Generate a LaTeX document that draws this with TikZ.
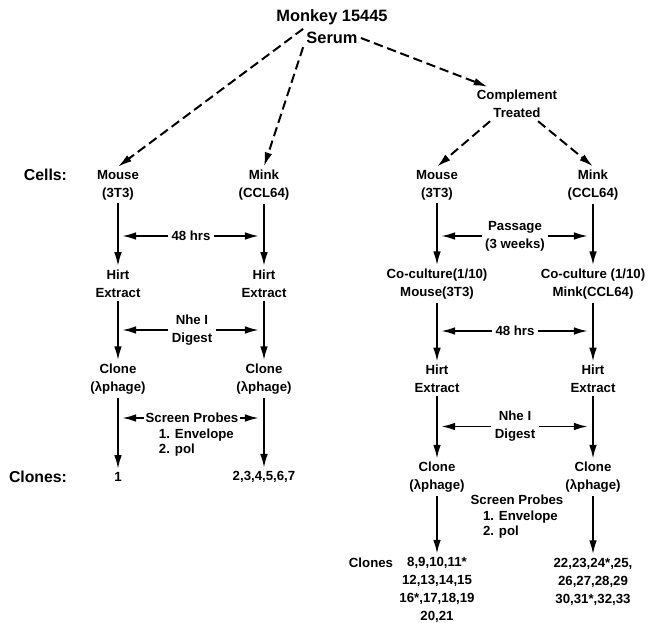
\documentclass[tikz,border=0pt]{standalone}
\usepackage{fontspec}
\setmainfont{Liberation Sans}
\usetikzlibrary{arrows.meta}

\begin{document}
\begin{tikzpicture}[
        >={Latex[length=12pt,width=6.5pt]}, line width=1.7pt,
        x=0.03cm, y=-0.03cm,
        lbl/.style={font=\fontsize{11.3}{15.4}\selectfont\bfseries, align=center, inner sep=2pt},
        lst/.style={font=\fontsize{11.3}{13}\selectfont\bfseries, align=left, inner sep=0pt},
        head/.style={font=\fontsize{14}{18}\selectfont\bfseries, inner sep=2pt},
        side/.style={font=\fontsize{13.5}{16}\selectfont\bfseries, anchor=east, inner sep=0pt},
        dash arrow/.style={->, dash pattern=on 8pt off 4pt},
    ]

    \useasboundingbox (0,0) rectangle (650,623);

    % top
    \node[head] (monkey) at (332,17) {Monkey 15445};
    \node[head] (serum) at (332,38) {Serum};
    \node[lbl] (compl) at (517,104) {Complement\\Treated};

    % row labels
    \node[side] (cells) at (68,175) {Cells:};
    \node[side] (clones) at (68,477) {Clones:};

    % left half
    \node[lbl] (mouseL) at (118,185) {Mouse\\(3T3)};
    \node[lbl] (hirtL1) at (118,283.5) {Hirt\\Extract};
    \node[lbl] (cloneL1) at (118,379) {Clone\\(λphage)};
    \node[lbl] (oneL) at (118,477) {1};
    \node[lbl] (minkL) at (264,185) {Mink\\(CCL64)};
    \node[lbl] (hirtL2) at (264,283.5) {Hirt\\Extract};
    \node[lbl] (cloneL2) at (264,379) {Clone\\(λphage)};
    \node[lbl] (restL) at (264,477) {2,3,4,5,6,7};

    \node[lbl] (hrsL) at (191,236) {48 hrs};
    \node[lbl] (nheL) at (192,330) {Nhe I\\Digest};
    \node[lbl, inner sep=0.5pt] (probesL) at (192,418) {Screen Probes};
    \node[lst, anchor=north west] (listL) at (158,428) {1. Envelope\\2. pol};

    % right half
    \node[lbl] (mouseR) at (437,185) {Mouse\\(3T3)};
    \node[lbl] (coR1) at (437,284) {Co-culture(1/10)\\Mouse(3T3)};
    \node[lbl] (hirtR1) at (437,379) {Hirt\\Extract};
    \node[lbl] (cloneR1) at (437,477.5) {Clone\\(λphage)};
    \node[lbl] (numR1) at (437,590) {8,9,10,11*\\12,13,14,15\\16*,17,18,19\\20,21};
    \node[lbl] (minkR) at (593,185) {Mink\\(CCL64)};
    \node[lbl] (coR2) at (593,284) {Co-culture (1/10)\\Mink(CCL64)};
    \node[lbl] (hirtR2) at (593,379) {Hirt\\Extract};
    \node[lbl] (cloneR2) at (593,477.5) {Clone\\(λphage)};
    \node[lbl] (numR2) at (593,581.5) {22,23,24*,25,\\26,27,28,29\\30,31*,32,33};

    \node[lbl] (passR) at (515,236) {Passage\\(3 weeks)};
    \node[lbl] (hrsR) at (515,331) {48 hrs};
    \node[lbl] (nheR) at (515,426.5) {Nhe I\\Digest};
    \node[lbl] (probesR) at (517,500) {Screen Probes};
    \node[lst, anchor=north west] (listR) at (482,510) {1. Envelope\\2. pol};
    \node[lbl] (clonesR) at (371,563) {Clones};

    % dashed arrows
    \draw[dash arrow] (serum.north west) -- (mouseL.north);
    \draw[dash arrow] (serum.south west) -- (minkL.north);
    \draw[dash arrow] (serum.east) -- ([xshift=-25pt]compl.north);
    \draw[dash arrow] ([xshift=-23pt]compl.south) -- (mouseR.north);
    \draw[dash arrow] ([xshift=18pt]compl.south) -- (minkR.north);

    % vertical arrows
    \foreach \a/\b in {mouseL/hirtL1, hirtL1/cloneL1, cloneL1/oneL,
                       minkL/hirtL2, hirtL2/cloneL2, cloneL2/restL,
                       mouseR/coR1, coR1/hirtR1, hirtR1/cloneR1, cloneR1/numR1,
                       minkR/coR2, coR2/hirtR2, hirtR2/cloneR2, cloneR2/numR2}
        \draw[->] (\a) -- (\b);

    % horizontal arrows
    \coordinate (tipA) at (122,0);
    \coordinate (tipB) at (259,0);
    \coordinate (tipC) at (441,0);
    \coordinate (tipD) at (588,0);
    \foreach \l/\a/\b in {hrsL/tipA/tipB, nheL/tipA/tipB, probesL/tipA/tipB,
                          passR/tipC/tipD, hrsR/tipC/tipD, nheR/tipC/tipD} {
        \draw[->] (\l.west) -- (\l.west -| \a);
        \draw[->] (\l.east) -- (\l.east -| \b);
    }

\end{tikzpicture}
\end{document}
